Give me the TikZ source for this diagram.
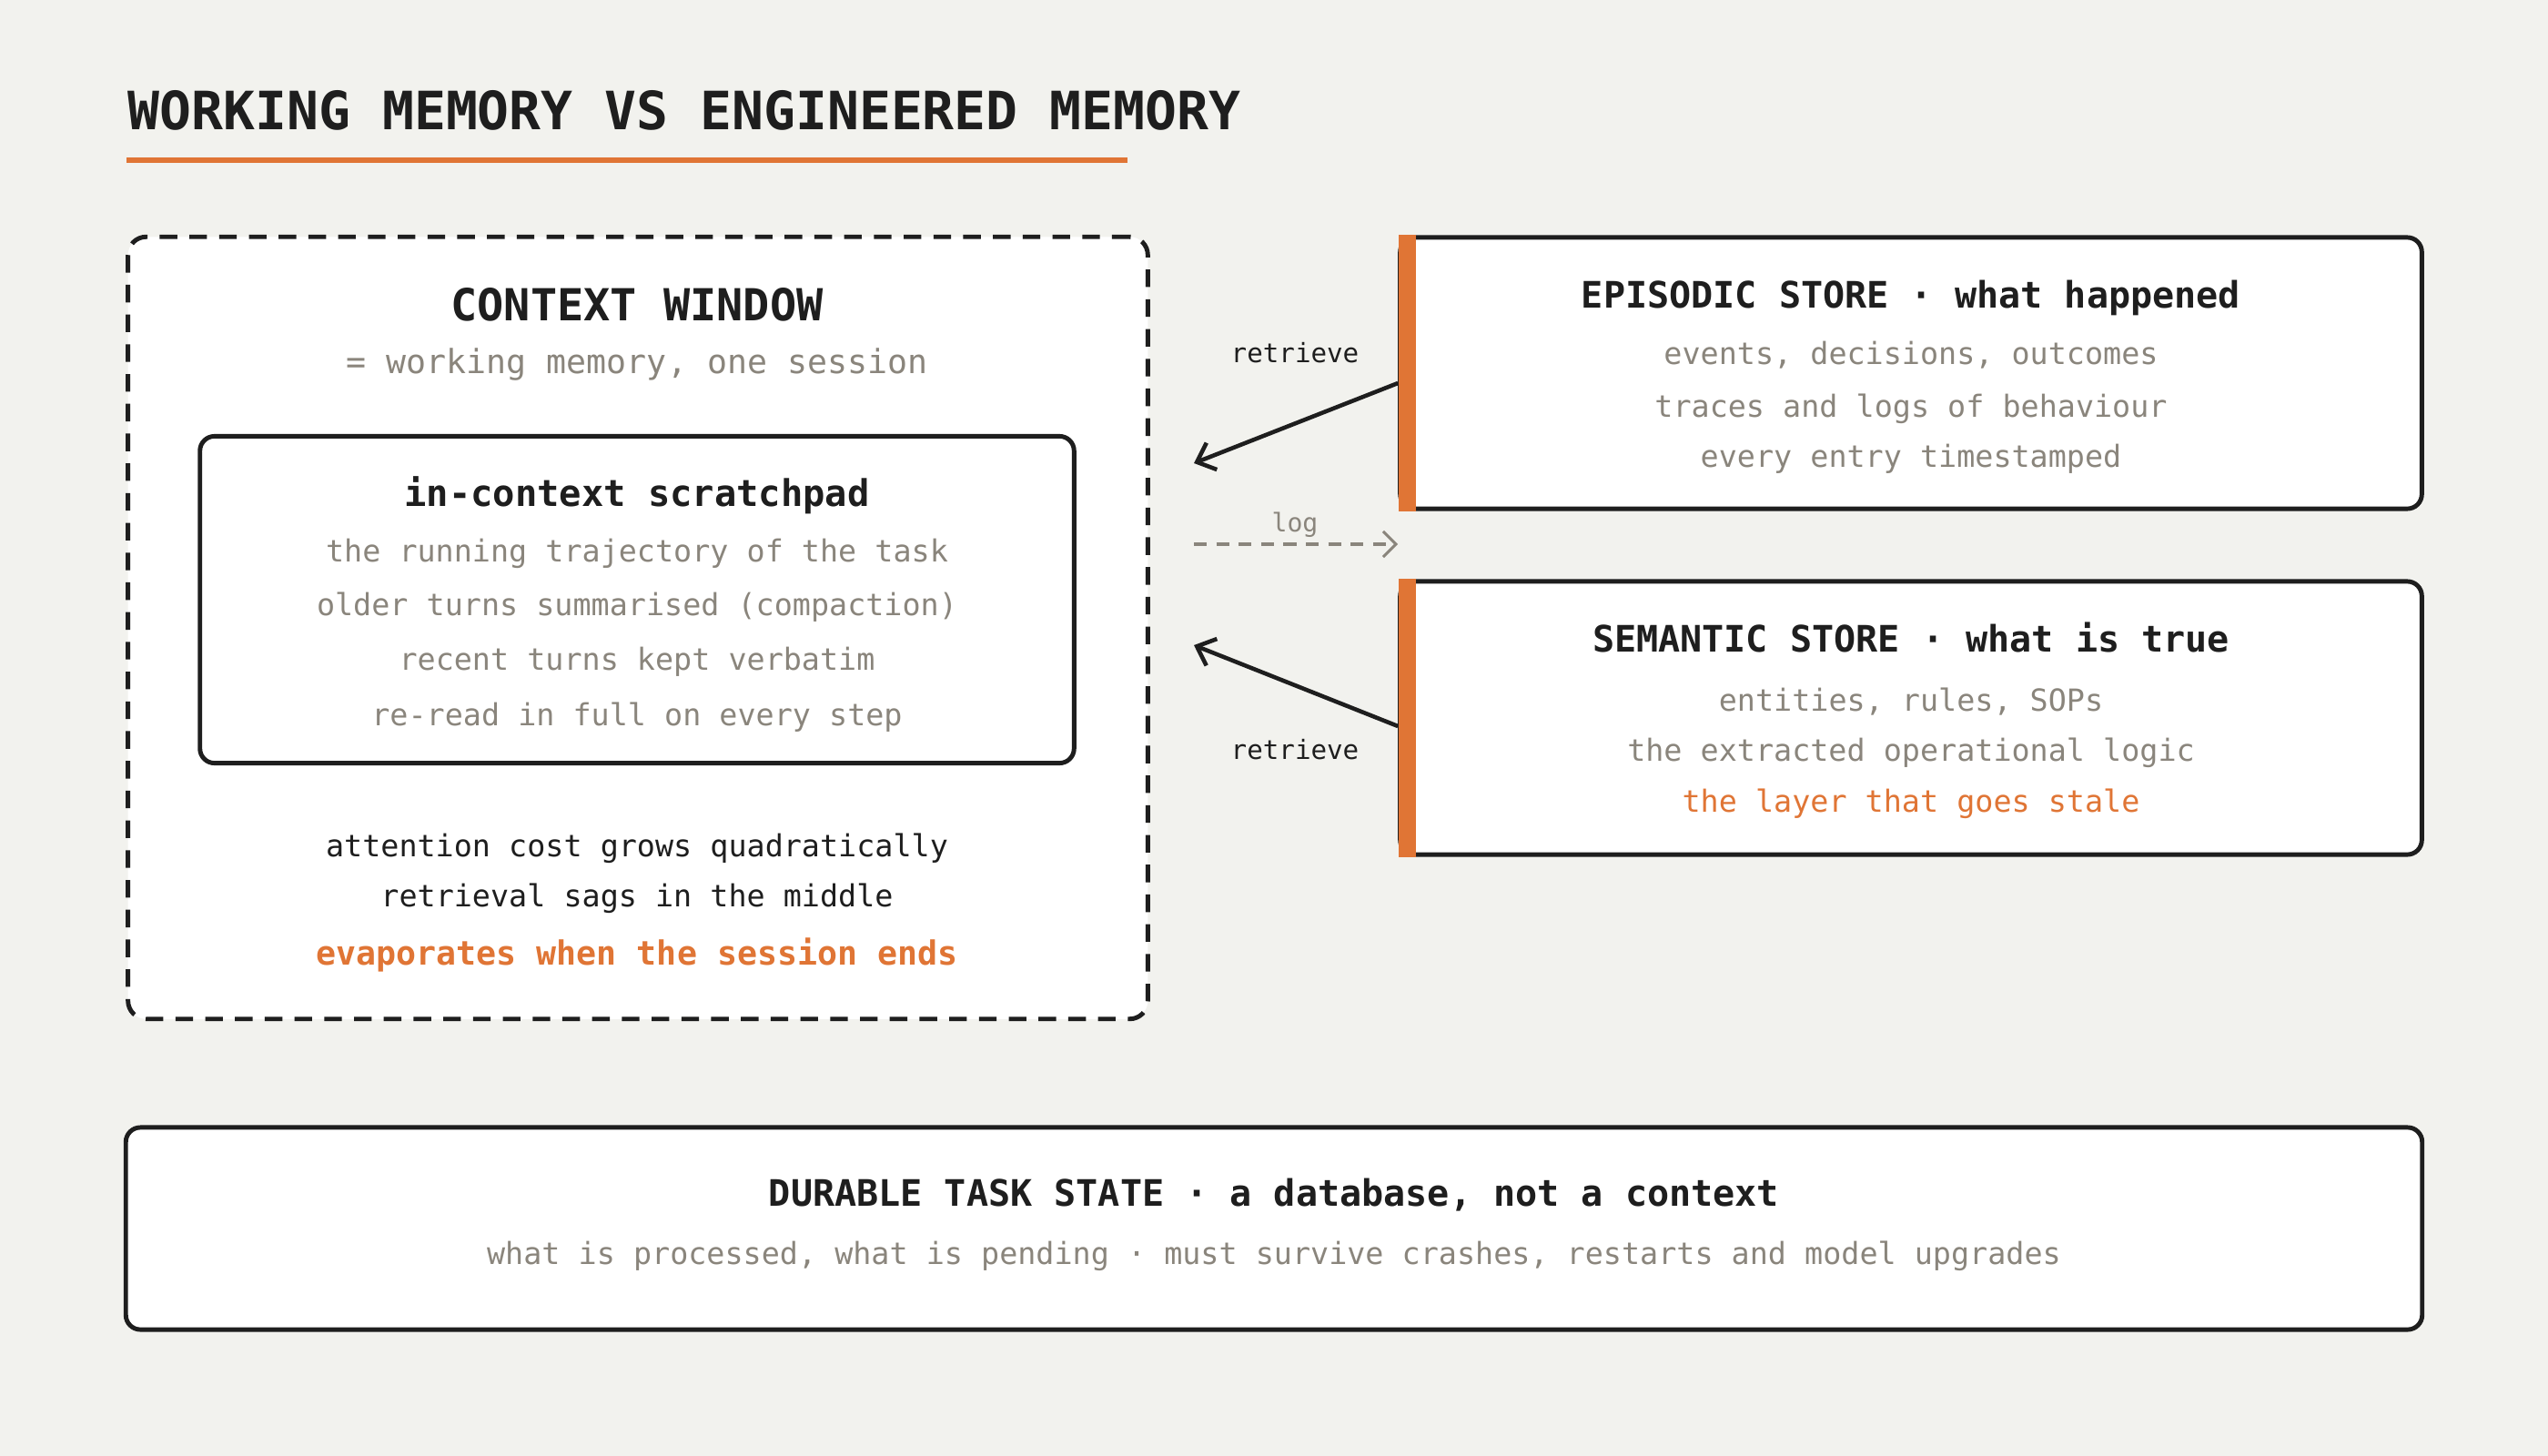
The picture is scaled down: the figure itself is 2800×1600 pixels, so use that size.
\documentclass[tikz,border=0pt]{standalone}
\usepackage{fontspec}
\setmainfont{DejaVu Sans Mono}
\usepackage{xcolor}
\definecolor{Paper}{RGB}{242,242,238}
\definecolor{Ink}{RGB}{30,30,30}
\definecolor{Accent}{RGB}{224,117,53}
\definecolor{Muted}{RGB}{138,133,124}
\definecolor{White}{RGB}{255,255,255}
\usetikzlibrary{arrows.meta,calc}

\tikzset{
  box/.style={draw=Ink, fill=White, line width=1.4pt, rounded corners=0.16cm},
  head/.style={anchor=base, color=Ink, font=\bfseries\fontsize{11.4}{13}\selectfont},
  line/.style={anchor=base, color=Muted, font=\fontsize{9.5}{11}\selectfont},
  fetch/.style={draw=Ink, line width=1.3pt, -{Straight Barb[length=5pt,width=9pt,line width=1.3pt]}},
}

\begin{document}
\begin{tikzpicture}[x=0.01cm, y=-0.01cm]

		% Background
		\fill[Paper] (0,0) rectangle (2800,1600);
		\useasboundingbox (0,0) rectangle (2800,1600);

		% Title
		\node[anchor=base west, inner sep=0pt, color=Ink, font=\bfseries\fontsize{16.5}{19}\selectfont] (title) at (140,143) {WORKING MEMORY VS ENGINEERED MEMORY};
		\fill[Accent] (139,173) rectangle (1239,179);

		% Rectangles
		\node[box, dash pattern=on 5.5pt off 3.8pt, rounded corners=0.2cm, minimum width=11.2cm, minimum height=8.59cm] (ctx) at (701,690) {};
		\node[box, minimum width=9.6cm, minimum height=3.59cm] (pad) at (700,659) {};
		\node[box, minimum width=11.22cm, minimum height=2.98cm] (epi) at (2100,410) {};
		\node[box, minimum width=11.22cm, minimum height=3cm] (sem) at (2100,789) {};
		\node[box, minimum width=25.22cm, minimum height=2.22cm] (dur) at (1400,1350) {};
		\fill[Accent] ([xshift=0.01cm]epi.south west) rectangle ([xshift=0.2cm]epi.north west);
		\fill[Accent] ([xshift=0.01cm]sem.south west) rectangle ([xshift=0.2cm]sem.north west);

		% Text -- context window
		\node[anchor=base, color=Ink, font=\bfseries\fontsize{13.8}{16}\selectfont] (ctxhead) at (700,352) {CONTEXT WINDOW};
		\node[anchor=base, color=Muted, font=\fontsize{10.4}{12}\selectfont] (ctxsub) at (700,410) {= working memory, one session};
		\node[anchor=base, color=Ink, font=\bfseries\fontsize{11.5}{14}\selectfont] (padhead) at (700,556) {in-context scratchpad};
		\node[line] (pad1) at (700,617) {the running trajectory of the task};
		\node[line] (pad2) at (700,676) {older turns summarised (compaction)};
		\node[line] (pad3) at (700,736) {recent turns kept verbatim};
		\node[line] (pad4) at (700,797) {re-read in full on every step};
		\node[line, color=Ink] (cost) at (700,941) {attention cost grows quadratically};
		\node[line, color=Ink] (sags) at (700,996) {retrieval sags in the middle};
		\node[anchor=base, color=Accent, font=\bfseries\fontsize{10.4}{12}\selectfont] (gone) at (700,1060) {evaporates when the session ends};

		% Text -- stores
		\node[head] (epihead) at (2100,338) {EPISODIC STORE · what happened};
		\node[line] (epi1) at (2100,400) {events, decisions, outcomes};
		\node[line] (epi2) at (2100,458) {traces and logs of behaviour};
		\node[line] (epi3) at (2100,513) {every entry timestamped};

		\node[head] (semhead) at (2100,716) {SEMANTIC STORE · what is true};
		\node[line] (sem1) at (2100,781) {entities, rules, SOPs};
		\node[line] (sem2) at (2100,836) {the extracted operational logic};
		\node[line, color=Accent] (sem3) at (2100,892) {the layer that goes stale};

		\node[head] (durhead) at (1400,1325) {DURABLE TASK STATE · a database, not a context};
		\node[line] (dur1) at (1400,1389) {what is processed, what is pending · must survive crashes, restarts and model upgrades};

		% Lines
		\coordinate (r1) at (1312,509);
		\coordinate (r2) at (1312,709);
		\coordinate (l0) at (1312,598);
		\draw[fetch] ([yshift=-0.11cm]epi.west) -- (r1);
		\draw[fetch] ([yshift=-0.09cm]sem.west) -- (r2);
		\draw[Muted, line width=0.9pt, dash pattern=on 4pt off 3pt, -{Straight Barb[length=4pt,width=8pt,line width=0.9pt]}] (l0) -- (l0 -| epi.west);

		% Labels
		\node[anchor=base, color=Ink, font=\fontsize{8.3}{10}\selectfont] (ret1) at (1423,398) {retrieve};
		\node[anchor=base, color=Ink, font=\fontsize{8.3}{10}\selectfont] (ret2) at (1423,834) {retrieve};
		\node[anchor=base, color=Muted, font=\fontsize{8}{10}\selectfont] (logl) at (1423,584) {log};

\end{tikzpicture}
\end{document}
